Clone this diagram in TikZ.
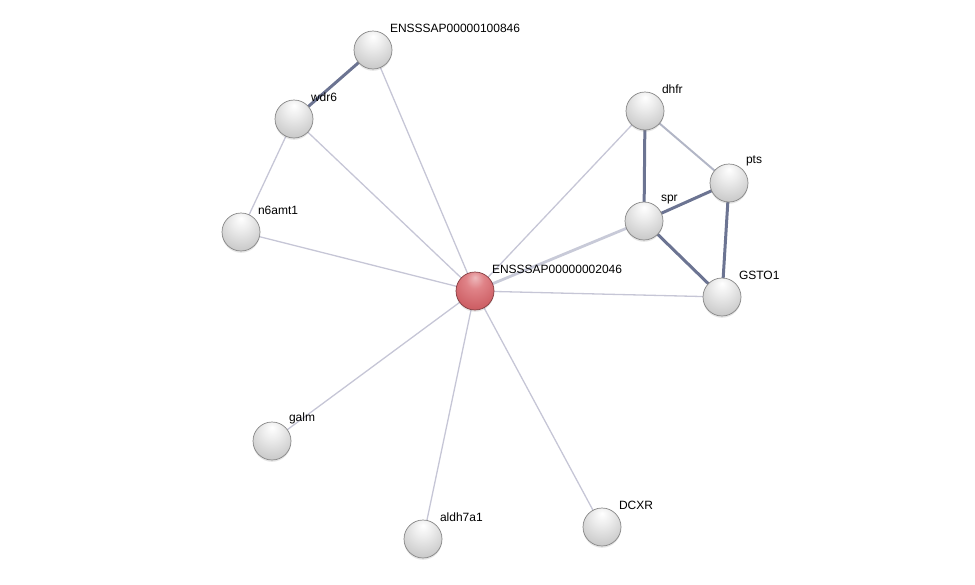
\documentclass[tikz,border=0pt]{standalone}
\usepackage{fontspec}
\setmainfont{Liberation Sans}
\usepackage{xcolor}
\usepackage{tikz}
\usetikzlibrary{shadows,backgrounds}
\definecolor{Faint}{HTML}{C6C6D6}
\definecolor{Pale}{HTML}{C8CAD8}
\definecolor{Medium}{HTML}{B2B6C6}
\definecolor{Dark}{HTML}{6C7492}
\definecolor{Hub}{HTML}{D8646A}
\pgfdeclareradialshading{greyball}{\pgfpoint{0bp}{18bp}}{%
  color(0bp)=(white); color(12bp)=(white!93!black); color(32bp)=(white!80!black);
  color(46bp)=(white!72!black); color(56bp)=(white!50!black); color(70bp)=(white!40!black)}
\pgfdeclareradialshading{redball}{\pgfpoint{0bp}{18bp}}{%
  color(0bp)=(white!55!Hub); color(12bp)=(white!20!Hub); color(32bp)=(Hub!95!black);
  color(46bp)=(Hub!85!black); color(56bp)=(Hub!65!black); color(70bp)=(Hub!55!black)}

\begin{document}
\begin{tikzpicture}[x=1pt,y=-1pt,
    prot/.style={circle,minimum size=38pt,inner sep=0pt,shading=greyball,
      draw=white!52!black,line width=0.7pt,
      drop shadow={opacity=0.2,shadow xshift=0pt,shadow yshift=-1.8pt}},
    lbl/.style={font=\fontsize{12}{14}\selectfont,inner sep=1pt},
    weak/.style={draw=Faint,line width=1.3pt},
    mid/.style={draw=Medium,line width=2pt},
    pale/.style={draw=Pale,line width=2.8pt},
    strong/.style={draw=Dark,line width=3pt}]
    \useasboundingbox (0,0) rectangle (975,584);
    \node[prot,shading=redball,draw=Hub!60!black,label={[lbl,label distance=3pt]45:ENSSSAP00000002046}] (hub) at (475,291) {};
    \node[prot,label={[lbl,label distance=3pt]45:ENSSSAP00000100846}] (p100846) at (373,50) {};
    \node[prot,label={[lbl,label distance=3pt]45:wdr6}] (wdr6) at (294,119) {};
    \node[prot,label={[lbl,label distance=3pt]45:n6amt1}] (n6amt1) at (241,232) {};
    \node[prot,label={[lbl,label distance=3pt]45:dhfr}] (dhfr) at (645,111) {};
    \node[prot,label={[lbl,label distance=3pt]45:pts}] (pts) at (729,183) {};
    \node[prot,label={[lbl,label distance=3pt]45:spr}] (spr) at (644,221) {};
    \node[prot,label={[lbl,label distance=3pt]45:GSTO1}] (gsto1) at (722,297) {};
    \node[prot,label={[lbl,label distance=3pt]45:galm}] (galm) at (272,441) {};
    \node[prot,label={[lbl,label distance=3pt]45:aldh7a1}] (aldh7a1) at (423,539) {};
    \node[prot,label={[lbl,label distance=3pt]45:DCXR}] (dcxr) at (602,527) {};
    \begin{scope}[on background layer]
      \foreach \t in {p100846,wdr6,n6amt1,dhfr,gsto1,galm,aldh7a1,dcxr}
        \draw[weak] (hub.center)--(\t.center);
      \draw[pale] (hub.center)--(spr.center);
      \draw[weak] (wdr6.center)--(n6amt1.center);
      \draw[strong] (wdr6.center)--(p100846.center);
      \draw[mid] (dhfr.center)--(pts.center);
      \draw[strong] (dhfr.center)--(spr.center);
      \draw[strong] (spr.center)--(pts.center);
      \draw[strong] (spr.center)--(gsto1.center);
      \draw[strong] (pts.center)--(gsto1.center);
    \end{scope}
  \end{tikzpicture}
\end{document}
